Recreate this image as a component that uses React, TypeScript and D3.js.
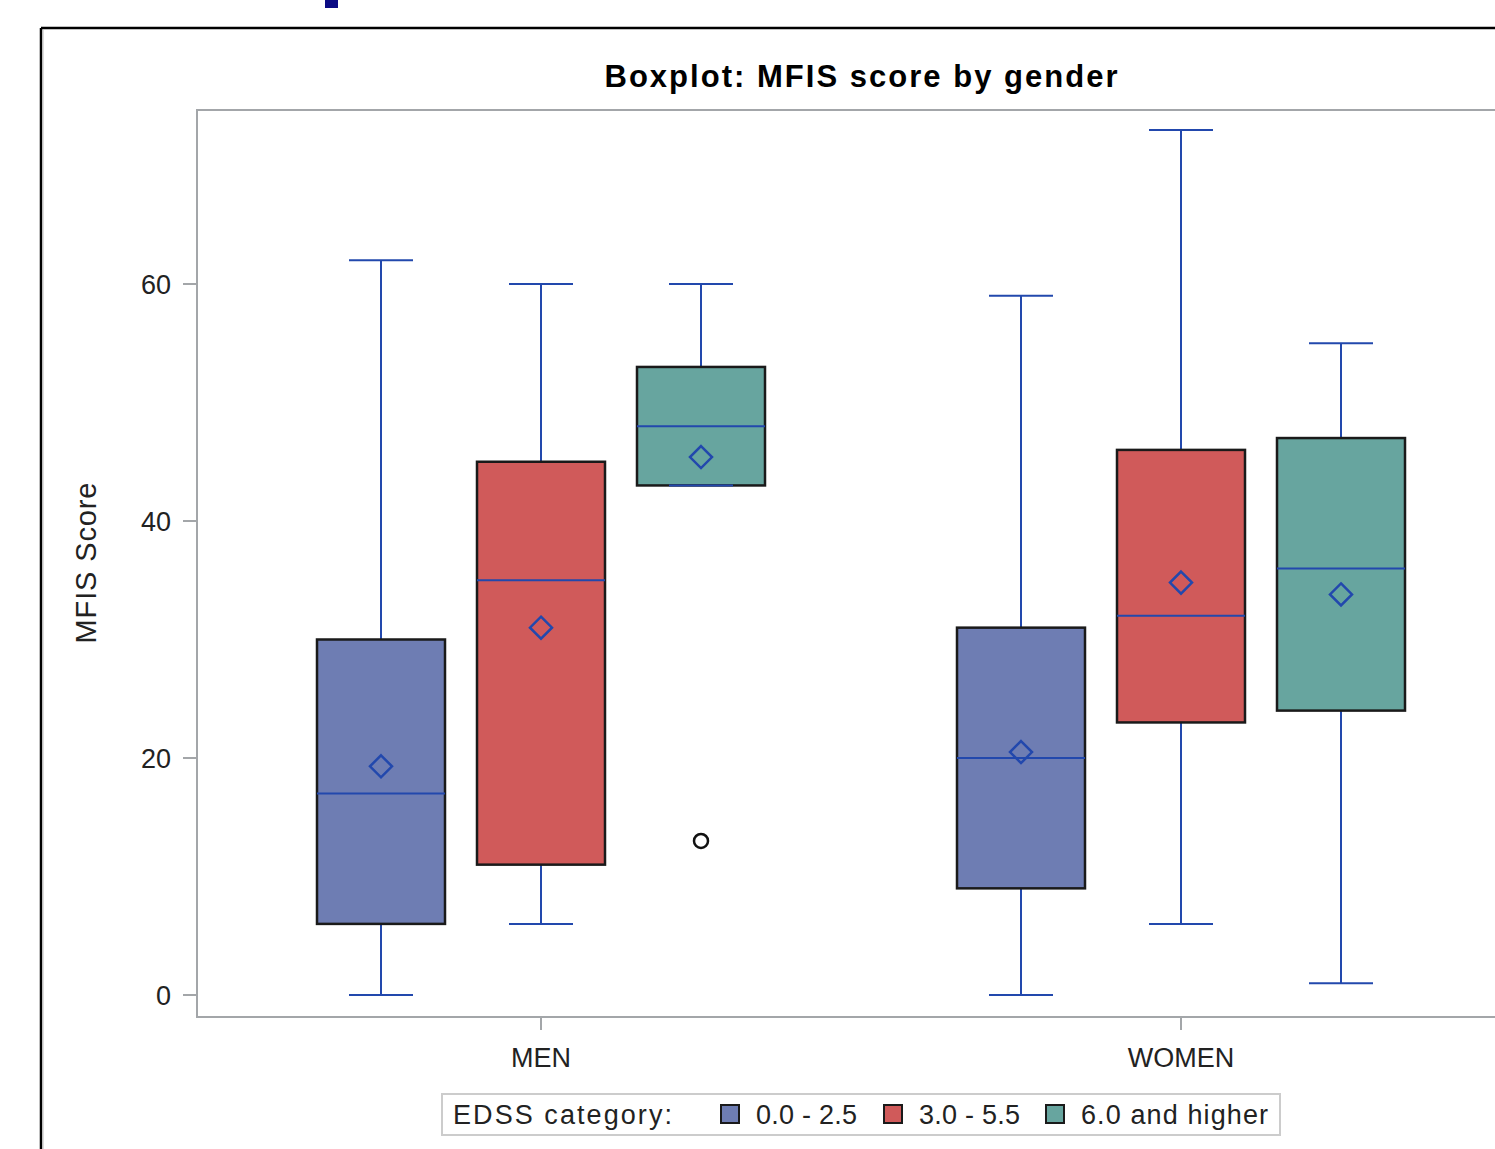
import * as d3 from "d3";

// MFIS score summary per gender and EDSS category
const genders = ["MEN", "WOMEN"];
const edssCats = ["0.0 - 2.5", "3.0 - 5.5", "6.0 and higher"];
const catColors = ["#6e7db3", "#d05a5a", "#67a59f"];

const mins = [[0, 6, 43], [0, 6, 1]];
const q1s = [[6, 11, 43], [9, 23, 24]];
const medians = [[17, 35, 48], [20, 32, 36]];
const q3s = [[30, 45, 53], [31, 46, 47]];
const maxs = [[62, 60, 60], [59, 73, 55]];
const means = [[19.3, 31, 45.4], [20.5, 34.8, 33.8]];
const outliers = [[[], [], [13]], [[], [], []]];

const yTicks = [0, 20, 40, 60];

const W = 1495;
const H = 1149;
const plotLeft = 197;
const plotRight = 1525;
const plotTop = 110;
const plotBottom = 1017;

const font = "'Liberation Sans', Arial, sans-serif";
const whiskerColor = "#2248ad";
const axisColor = "#a3a6a9";

// legend entry x positions and text widths (matched to the original output)
const legendX = [721, 884, 1046];
const legendTextW = [101, 101, 187];

export default function App() {
  const y = d3.scaleLinear().domain([0, 60]).range([995, 284]);

  const x = d3
    .scaleBand()
    .domain(genders)
    .range([plotLeft, plotRight])
    .paddingInner(0)
    .paddingOuter(0.0375);

  const inner = d3
    .scaleBand()
    .domain(edssCats)
    .range([-240, 240])
    .paddingInner(0.2)
    .paddingOuter(0.1);

  const bw = inner.bandwidth();
  const capW = bw / 2;
  const midX = (plotLeft + plotRight) / 2;

  return (
    <svg
      width={W}
      height={H}
      style={{ position: "absolute", left: 0, top: 0, background: "#fff" }}
      fontFamily={font}
    >
      {/* page decoration */}
      <rect x={325} y={0} width={13} height={8} fill="#0b0b84" />
      <line x1={41} y1={28} x2={W} y2={28} stroke="#000" strokeWidth={2.5} />
      <line x1={41} y1={28} x2={41} y2={H} stroke="#000" strokeWidth={2.5} />
      <line x1={43.5} y1={30} x2={43.5} y2={H} stroke="#ddd" strokeWidth={1} />

      <text
        x={midX}
        y={87}
        textAnchor="middle"
        fontSize={31}
        fontWeight="bold"
        fill="#000"
        textLength={513}
        lengthAdjust="spacing"
      >
        Boxplot: MFIS score by gender
      </text>

      {/* plot frame */}
      <rect
        x={plotLeft}
        y={plotTop}
        width={plotRight - plotLeft}
        height={plotBottom - plotTop}
        fill="none"
        stroke={axisColor}
        strokeWidth={2}
      />

      {/* y axis */}
      {yTicks.map((t) => (
        <g key={t}>
          <line x1={plotLeft - 14} x2={plotLeft} y1={y(t)} y2={y(t)} stroke={axisColor} strokeWidth={2} />
          <text
            x={plotLeft - 26}
            y={y(t)}
            dy="0.36em"
            textAnchor="end"
            fontSize={27}
            fill="#222"
          >
            {t}
          </text>
        </g>
      ))}
      <text
        transform={`translate(96,563) rotate(-90)`}
        textAnchor="middle"
        fontSize={29}
        fill="#222"
        textLength={161}
        lengthAdjust="spacing"
      >
        MFIS Score
      </text>

      {/* x axis */}
      {genders.map((g) => {
        const cx = x(g)! + x.bandwidth() / 2;
        return (
          <g key={g}>
            <line x1={cx} x2={cx} y1={plotBottom} y2={plotBottom + 13} stroke={axisColor} strokeWidth={2} />
            <text x={cx} y={1067} textAnchor="middle" fontSize={27} fill="#222">
              {g}
            </text>
          </g>
        );
      })}

      {/* boxes */}
      {genders.map((g, gi) => {
        const gc = x(g)! + x.bandwidth() / 2;
        return edssCats.map((c, ci) => {
          const cx = gc + inner(c)! + bw / 2;
          const x0 = cx - bw / 2;
          const m = means[gi][ci];
          const d = 11;
          return (
            <g key={g + c}>
              <line x1={cx} x2={cx} y1={y(maxs[gi][ci])} y2={y(q3s[gi][ci])} stroke={whiskerColor} strokeWidth={2} />
              <line x1={cx} x2={cx} y1={y(q1s[gi][ci])} y2={y(mins[gi][ci])} stroke={whiskerColor} strokeWidth={2} />
              <rect
                x={x0}
                y={y(q3s[gi][ci])}
                width={bw}
                height={y(q1s[gi][ci]) - y(q3s[gi][ci])}
                fill={catColors[ci]}
                stroke="#1a1a1a"
                strokeWidth={2.5}
              />
              <line x1={x0} x2={x0 + bw} y1={y(medians[gi][ci])} y2={y(medians[gi][ci])} stroke={whiskerColor} strokeWidth={2} />
              <line
                x1={cx - capW / 2}
                x2={cx + capW / 2}
                y1={y(maxs[gi][ci])}
                y2={y(maxs[gi][ci])}
                stroke={whiskerColor}
                strokeWidth={2}
              />
              <line
                x1={cx - capW / 2}
                x2={cx + capW / 2}
                y1={y(mins[gi][ci])}
                y2={y(mins[gi][ci])}
                stroke={whiskerColor}
                strokeWidth={2}
              />
              <path
                d={`M${cx},${y(m) - d}L${cx + d},${y(m)}L${cx},${y(m) + d}L${cx - d},${y(m)}Z`}
                fill="none"
                stroke={whiskerColor}
                strokeWidth={2.5}
              />
              {outliers[gi][ci].map((o, oi) => (
                <circle key={oi} cx={cx} cy={y(o)} r={7} fill="none" stroke="#111" strokeWidth={2.5} />
              ))}
            </g>
          );
        });
      })}

      {/* legend */}
      <rect x={442} y={1094} width={838} height={41} fill="#fff" stroke="#ccc" strokeWidth={2} />
      <text x={453} y={1124} fontSize={27} fill="#222" textLength={219} lengthAdjust="spacing">
        EDSS category:
      </text>
      {edssCats.map((c, i) => {
        const lx = legendX[i];
        return (
          <g key={c}>
            <rect x={lx} y={1105} width={18} height={18} fill={catColors[i]} stroke="#1a1a1a" strokeWidth={2} />
            <text
              x={lx + 35}
              y={1124}
              fontSize={27}
              fill="#222"
              textLength={legendTextW[i]}
              lengthAdjust="spacing"
            >
              {c}
            </text>
          </g>
        );
      })}
    </svg>
  );
}
